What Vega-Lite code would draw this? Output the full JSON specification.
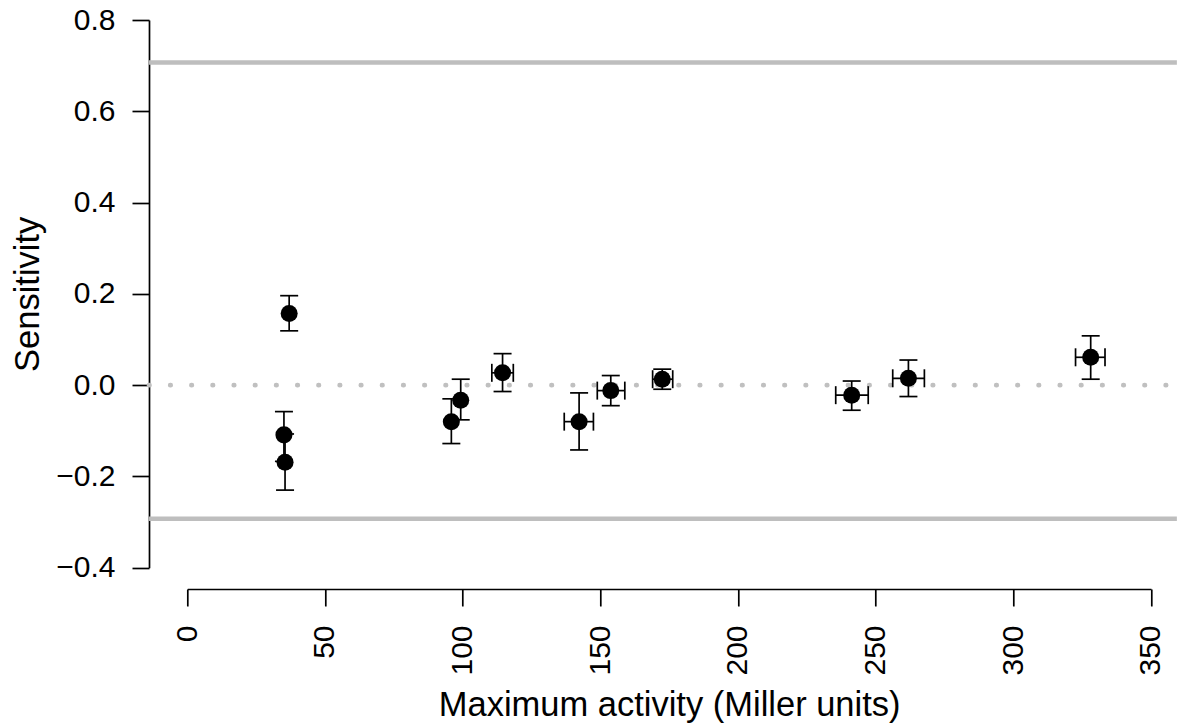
{
  "$schema": "https://vega.github.io/schema/vega-lite/v6.json",
  "width": 963.7,
  "height": 547.7,
  "autosize": {"type": "none"},
  "padding": {"left": 187.3, "top": 20, "right": 25.7, "bottom": 155.3},
  "background": "white",
  "config": {
    "view": {"stroke": null},
    "axis": {
      "domainColor": "black",
      "domainWidth": 1.7,
      "tickColor": "black",
      "tickWidth": 1.7,
      "tickSize": 17,
      "labelFont": "Liberation Sans",
      "labelFontSize": 30,
      "labelColor": "black",
      "titleFont": "Liberation Sans",
      "titleFontSize": 34.5,
      "titleFontWeight": "normal",
      "titleColor": "black",
      "grid": false,
      "labelOverlap": false,
      "labelFlush": false,
      "labelBound": false
    },
    "axisX": {"offset": 21.3, "labelAngle": 270, "labelAlign": "right", "labelBaseline": "middle", "labelPadding": 19, "titlePadding": 13},
    "axisY": {"offset": 38.3, "labelPadding": 17, "titlePadding": 10}
  },
  "datasets": {
    "points": [
      {"x": 37.0, "y": 0.157, "ylo": 0.119, "yhi": 0.196, "xlo": null, "xhi": null},
      {"x": 35.1, "y": -0.109, "ylo": -0.167, "yhi": -0.058, "xlo": null, "xhi": null},
      {"x": 35.5, "y": -0.169, "ylo": -0.230, "yhi": -0.107, "xlo": null, "xhi": null},
      {"x": 95.9, "y": -0.080, "ylo": -0.128, "yhi": -0.030, "xlo": null, "xhi": null},
      {"x": 99.3, "y": -0.033, "ylo": -0.076, "yhi": 0.013, "xlo": null, "xhi": null},
      {"x": 114.5, "y": 0.027, "ylo": -0.014, "yhi": 0.069, "xlo": 110.6, "xhi": 118.4},
      {"x": 142.3, "y": -0.080, "ylo": -0.142, "yhi": -0.017, "xlo": 136.9, "xhi": 147.5},
      {"x": 153.8, "y": -0.012, "ylo": -0.045, "yhi": 0.021, "xlo": 148.9, "xhi": 158.9},
      {"x": 172.5, "y": 0.013, "ylo": -0.009, "yhi": 0.035, "xlo": 169.0, "xhi": 176.3},
      {"x": 241.3, "y": -0.022, "ylo": -0.055, "yhi": 0.009, "xlo": 235.5, "xhi": 247.3},
      {"x": 261.9, "y": 0.015, "ylo": -0.025, "yhi": 0.055, "xlo": 256.2, "xhi": 267.7},
      {"x": 328.1, "y": 0.061, "ylo": 0.013, "yhi": 0.108, "xlo": 322.6, "xhi": 333.3}
    ],
    "refs": [
      {"y": 0.707, "xstart": -13.9, "xend": 359.4},
      {"y": -0.293, "xstart": -13.9, "xend": 359.4}
    ],
    "zero": [
      {"y": 0, "xstart": -13.9, "xend": 359.4}
    ]
  },
  "layer": [
    {
      "data": {"name": "refs"},
      "mark": {"type": "rule", "color": "#bebebe", "strokeWidth": 4.5},
      "encoding": {
        "x": {"field": "xstart", "type": "quantitative", "scale": {"domain": [0, 350], "nice": false, "zero": false}, "axis": {"title": "Maximum activity (Miller units)", "values": [0, 50, 100, 150, 200, 250, 300, 350]}},
        "x2": {"field": "xend"},
        "y": {"field": "y", "type": "quantitative", "scale": {"domain": [-0.4, 0.8], "nice": false, "zero": false}, "axis": {"title": "Sensitivity", "values": [-0.4, -0.2, 0, 0.2, 0.4, 0.6, 0.8], "format": ".1f"}}
      }
    },
    {
      "data": {"name": "zero"},
      "mark": {"type": "rule", "color": "#c0c0c0", "strokeWidth": 4.7, "strokeDash": [0.5, 20.68], "strokeCap": "round"},
      "encoding": {
        "x": {"field": "xstart", "type": "quantitative", "axis": {"title": "Maximum activity (Miller units)", "values": [0, 50, 100, 150, 200, 250, 300, 350]}},
        "x2": {"field": "xend"},
        "y": {"field": "y", "type": "quantitative", "axis": {"title": "Sensitivity", "values": [-0.4, -0.2, 0, 0.2, 0.4, 0.6, 0.8], "format": ".1f"}}
      }
    },
    {
      "data": {"name": "points"},
      "mark": {"type": "rule", "color": "black", "strokeWidth": 1.7},
      "encoding": {
        "x": {"field": "x", "type": "quantitative", "axis": {"title": "Maximum activity (Miller units)", "values": [0, 50, 100, 150, 200, 250, 300, 350]}},
        "y": {"field": "ylo", "type": "quantitative", "axis": {"title": "Sensitivity", "values": [-0.4, -0.2, 0, 0.2, 0.4, 0.6, 0.8], "format": ".1f"}},
        "y2": {"field": "yhi"}
      }
    },
    {
      "data": {"name": "points"},
      "transform": [{"fold": ["ylo", "yhi"], "as": ["k", "v"]}],
      "mark": {"type": "tick", "orient": "horizontal", "size": 18, "thickness": 1.7, "color": "black", "opacity": 1},
      "encoding": {
        "x": {"field": "x", "type": "quantitative", "axis": {"title": "Maximum activity (Miller units)", "values": [0, 50, 100, 150, 200, 250, 300, 350]}},
        "y": {"field": "v", "type": "quantitative", "axis": {"title": "Sensitivity", "values": [-0.4, -0.2, 0, 0.2, 0.4, 0.6, 0.8], "format": ".1f"}}
      }
    },
    {
      "data": {"name": "points"},
      "transform": [{"filter": "isValid(datum.xlo)"}],
      "mark": {"type": "rule", "color": "black", "strokeWidth": 1.7},
      "encoding": {
        "x": {"field": "xlo", "type": "quantitative", "axis": {"title": "Maximum activity (Miller units)", "values": [0, 50, 100, 150, 200, 250, 300, 350]}},
        "x2": {"field": "xhi"},
        "y": {"field": "y", "type": "quantitative", "axis": {"title": "Sensitivity", "values": [-0.4, -0.2, 0, 0.2, 0.4, 0.6, 0.8], "format": ".1f"}}
      }
    },
    {
      "data": {"name": "points"},
      "transform": [{"filter": "isValid(datum.xlo)"}, {"fold": ["xlo", "xhi"], "as": ["k", "v"]}],
      "mark": {"type": "tick", "orient": "vertical", "size": 18, "thickness": 1.7, "color": "black", "opacity": 1},
      "encoding": {
        "x": {"field": "v", "type": "quantitative", "axis": {"title": "Maximum activity (Miller units)", "values": [0, 50, 100, 150, 200, 250, 300, 350]}},
        "y": {"field": "y", "type": "quantitative", "axis": {"title": "Sensitivity", "values": [-0.4, -0.2, 0, 0.2, 0.4, 0.6, 0.8], "format": ".1f"}}
      }
    },
    {
      "data": {"name": "points"},
      "mark": {"type": "point", "shape": "circle", "filled": true, "size": 290, "color": "black", "opacity": 1, "strokeWidth": 0},
      "encoding": {
        "x": {"field": "x", "type": "quantitative", "axis": {"title": "Maximum activity (Miller units)", "values": [0, 50, 100, 150, 200, 250, 300, 350]}},
        "y": {"field": "y", "type": "quantitative", "axis": {"title": "Sensitivity", "values": [-0.4, -0.2, 0, 0.2, 0.4, 0.6, 0.8], "format": ".1f"}}
      }
    }
  ]
}
